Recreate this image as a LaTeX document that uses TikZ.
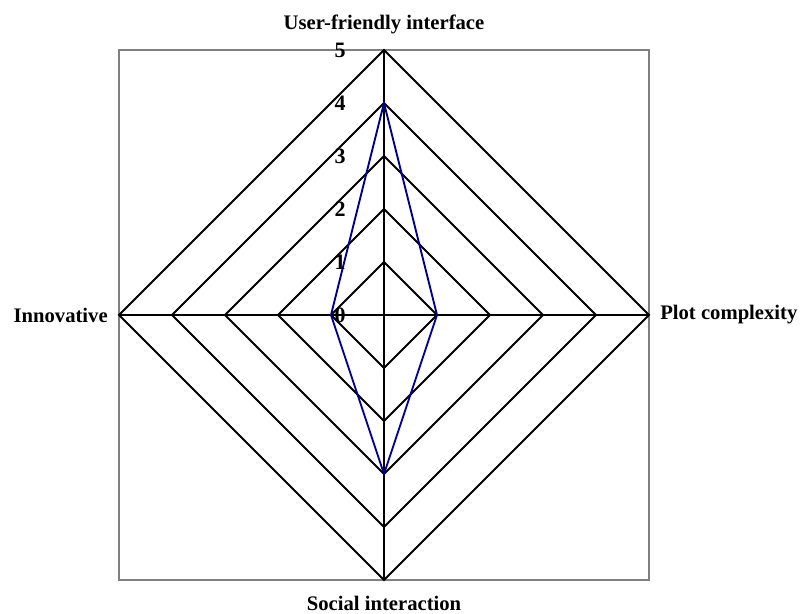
\documentclass[tikz,border=0pt]{standalone}
\usepackage{fontspec}
\setmainfont{Liberation Serif}
\begin{document}
\begin{tikzpicture}[x=0.75pt,y=-0.75pt,
  frame/.style={draw=black!50,line width=1.5pt},
  ring/.style={draw=black,line width=1.5pt,line join=miter},
  spoke/.style={draw=black,line width=1.5pt},
  series/.style={draw=blue!55!black,line width=1.4pt,line join=miter},
  axislabel/.style={font=\bfseries\fontsize{15.5}{18}\selectfont,inner sep=0pt},
  ticklabel/.style={font=\bfseries\fontsize{16.5}{19}\selectfont,inner sep=0pt}]
\useasboundingbox (0,0) rectangle (800,614);
% centre and one scale step
\def\cx{384}\def\cy{315}\def\u{53}
\coordinate (c) at (\cx,\cy);
% plot frame
\draw[frame] (\cx-5*\u,\cy-5*\u) rectangle (\cx+5*\u,\cy+5*\u);
% concentric grid rings 1..5
\foreach \k in {1,...,5}
  \draw[ring] (\cx,\cy-\k*\u) -- (\cx+\k*\u,\cy) -- (\cx,\cy+\k*\u) -- (\cx-\k*\u,\cy) -- cycle;
% axis spokes
\coordinate (top) at (\cx,\cy-5*\u);
\coordinate (right) at (\cx+5*\u,\cy);
\coordinate (bottom) at (\cx,\cy+5*\u);
\coordinate (left) at (\cx-5*\u,\cy);
\draw[spoke] (top) -- (bottom);
\draw[spoke] (left) -- (right);
% data series: 4, 1, 3, 1
\draw[series] (\cx,\cy-4*\u) -- (\cx+1*\u,\cy) -- (\cx,\cy+3*\u) -- (\cx-1*\u,\cy) -- cycle;
% scale values along the top axis
\foreach \k in {0,...,5}
  \node[ticklabel] (t\k) at (340,\cy-\k*\u) {\k};
% axis names
\node[axislabel,anchor=base] (nUser) at (\cx,30) {User-friendly interface};
\node[axislabel,anchor=west] (nPlot) at (660,\cy) {Plot complexity};
\node[axislabel,anchor=base] (nSocial) at (\cx,610) {Social interaction};
\node[axislabel,anchor=east] (nInno) at (108,\cy) {Innovative};
\end{tikzpicture}
\end{document}
